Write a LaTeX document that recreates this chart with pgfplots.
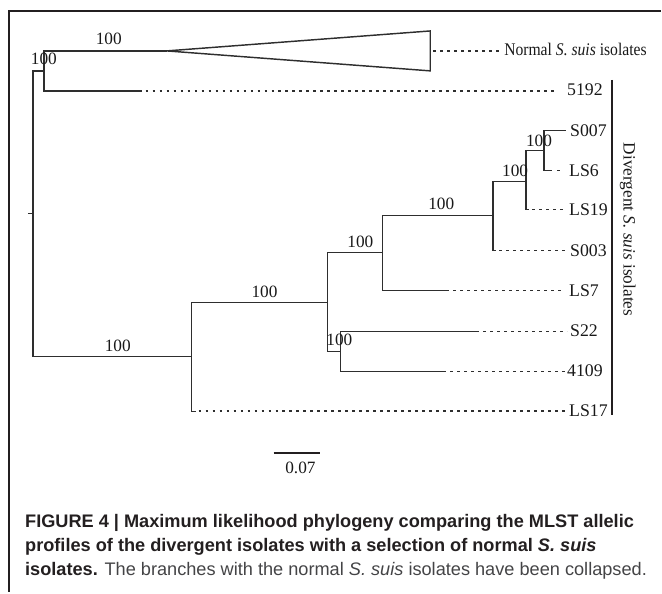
\documentclass[border=0pt]{standalone}
\usepackage{fontspec}
\setmainfont{Liberation Serif}
\newfontfamily\capfont{Liberation Sans}
\usepackage{pgfplots}
\pgfplotsset{compat=1.18}
\definecolor{frame}{HTML}{231F20}
\definecolor{tree}{HTML}{2E2E2E}
\definecolor{captxt}{HTML}{444446}
\begin{document}
\begin{tikzpicture}[
br/.style={color=tree, line width=1.45pt},
dt/.style={color=tree, line width=1.6pt, dash pattern=on 2.6pt off 4.4pt},
lab/.style={font=\fontsize{17.3}{19}\selectfont, inner sep=0pt, text=black!90},
leaf/.style={font=\fontsize{17.8}{19}\selectfont, inner sep=0pt, anchor=west, text=black!90},
]
\begin{axis}[
width=662pt, height=593pt, scale only axis,
xmin=0, xmax=662, ymin=0, ymax=593, y dir=reverse,
hide axis, clip=false,
]
% page corners
\addplot[draw=none] coordinates {(0,0) (662,593)};
% frame
\addplot[color=frame, line width=2.4pt] coordinates {(9,593) (9,11) (662,11)};

% root and normal clade
\addplot[br] coordinates {(28,214) (33,214)};
\addplot[br] coordinates {(44,71) (33,71) (33,357) (192,357)};
\addplot[br] coordinates {(167,51) (44,51) (44,91) (142,91)};
\addplot[br] coordinates {(167,51) (431,31) (431,71) (167,51)};
\addplot[dt] coordinates {(434,51) (501,51)};
\addplot[dt] coordinates {(146,91) (558,91)};

% divergent clade
\addplot[br] coordinates {(328,303) (192,303) (192,412) (196,412)};
\addplot[dt] coordinates {(199,412) (566,412)};
\addplot[br] coordinates {(383,253) (328,253) (328,352) (341,352)};
\addplot[br] coordinates {(494,216) (383,216) (383,291) (450,291)};
\addplot[dt] coordinates {(454,291) (562,291)};
\addplot[br] coordinates {(527,182) (494,182) (494,251) (497,251)};
\addplot[dt] coordinates {(500,251) (568,251)};
\addplot[br] coordinates {(545,151) (527,151) (527,210) (530,210)};
\addplot[dt] coordinates {(533,210) (567,210)};
\addplot[br] coordinates {(567,131) (545,131) (545,171) (553,171)};
\addplot[dt] coordinates {(558,171) (562,171)};
\addplot[br] coordinates {(480,332) (341,332) (341,372) (447,372)};
\addplot[dt] coordinates {(484,332) (568,332)};
\addplot[dt] coordinates {(451,372) (568,372)};

% bracket and scale bar
\addplot[color=frame, line width=1.8pt] coordinates {(613,80) (613,416)};
\addplot[color=frame, line width=1.6pt] coordinates {(274,454) (321,454)};

% support values
\node[lab] at (axis cs:109,39) {100};
\node[lab] at (axis cs:44,59) {100};
\node[lab] at (axis cs:118,346) {100};
\node[lab] at (axis cs:265,292) {100};
\node[lab] at (axis cs:361,242) {100};
\node[lab] at (axis cs:442,204) {100};
\node[lab] at (axis cs:516,171) {100};
\node[lab] at (axis cs:540,141) {100};
\node[lab] at (axis cs:340,340) {100};
\node[lab] at (axis cs:301,469) {0.07};

% tip labels
\node[leaf, xscale=0.88] at (axis cs:505,50) {Normal \textit{S. suis} isolates};
\node[leaf] at (axis cs:568,90) {5192};
\node[leaf] at (axis cs:571,131) {S007};
\node[leaf] at (axis cs:570,171) {LS6};
\node[leaf] at (axis cs:570,210) {LS19};
\node[leaf] at (axis cs:571,251) {S003};
\node[leaf] at (axis cs:570,291) {LS7};
\node[leaf] at (axis cs:571,331) {S22};
\node[leaf] at (axis cs:568,371) {4109};
\node[leaf] at (axis cs:570,411) {LS17};
\node[lab, rotate=-90] at (axis cs:629,230) {Divergent \textit{S. suis} isolates};

% caption
\node[anchor=base west, inner sep=0pt, font=\capfont\bfseries\fontsize{18.2}{20}\selectfont, text=frame]
  at (axis cs:25,528) {FIGURE 4 | Maximum likelihood phylogeny comparing the MLST allelic};
\node[anchor=base west, inner sep=0pt, font=\capfont\bfseries\fontsize{18.2}{20}\selectfont, text=frame]
  at (axis cs:25,552) {profiles of the divergent isolates with a selection of normal \textit{S. suis}};
\node[anchor=base west, inner sep=0pt, font=\capfont\fontsize{18.2}{20}\selectfont, text=captxt]
  at (axis cs:25,577) {\textcolor{frame}{\bfseries isolates.} The branches with the normal \textit{S. suis} isolates have been collapsed.};
\end{axis}
\end{tikzpicture}
\end{document}
